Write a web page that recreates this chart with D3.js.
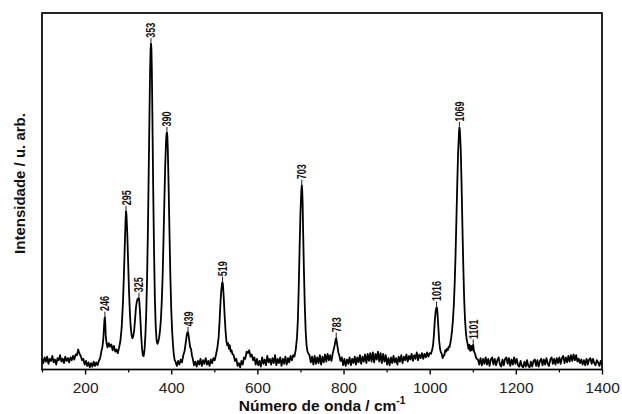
<!DOCTYPE html>
<html><head><meta charset="utf-8">
<script src="https://cdn.jsdelivr.net/npm/d3@7"></script>
<style>body{margin:0;background:#fff}svg{display:block}</style>
</head><body>
<svg id="c" width="622" height="414"></svg>
<script>
// Raman spectrum: wavenumber (cm-1) and intensity (arb. units)
const spectrum = [
[100,30],[103,18],[106,34],[109,22],[112,36],[115,16],[118,30],[121,24],[124,38],[127,20],[130,28],[133,14],[136,32],[139,26],[142,40],[145,22],[148,30],[151,18],[154,36],[157,24],[160,32],[163,20],[166,34],[169,26],[172,38],[175,28],[178,42],[181,40],[184,56],[187,44],[190,38],[193,26],[196,30],[199,14],[202,24],[205,10],[208,20],[211,6],[214,18],[217,8],[220,22],[223,10],[226,20],[229,12],[232,24],[235,32],[238,52],[240,62],
[242,80],[244,120],[245,140],[246,147],[247,128],[248,95],[250,72],[252,62],[255,74],[258,64],[261,70],[264,54],[267,66],[270,50],[273,56],[276,46],[279,62],[282,80],[285,118],[288,190],[290,260],[292,340],[294,420],[295,444],[296,436],[298,380],[300,300],[302,220],[304,160],[306,118],[308,96],[310,88],[312,94],[314,110],[316,140],[318,172],[320,190],[322,198],[324,200],[325,200],[326,190],[328,150],[330,100],[332,62],[334,40],[336,38],[338,55],[340,95],[342,160],[344,260],[346,400],[348,580],[350,760],[351,840],[352,895],[353,914],[354,900],[355,840],[356,740],[358,520],[360,340],[362,200],[364,120],[366,82],[368,72],[370,78],[372,90],[374,110],[376,140],[378,190],[380,260],[382,360],[384,470],[386,570],[388,640],[389,660],[390,665],[391,655],[392,620],[394,510],[396,380],[398,260],[400,170],[402,110],[404,70],[406,42],[408,26],[410,22],[413,10],[416,24],[419,14],[422,28],[425,20],[428,40],[431,52],[434,78],[436,96],[438,105],[439,104],[440,98],[442,80],[444,62],[446,58],[448,40],[450,30],[453,12],[456,22],[459,8],[462,24],[465,14],[468,30],[471,10],[474,26],[477,16],[480,32],[483,14],[486,24],[489,10],[492,28],[495,18],[498,32],[501,26],[504,42],[507,60],[510,90],[512,130],[514,180],[516,220],[518,242],[519,245],[520,238],[522,200],[524,150],[526,110],[528,80],[530,68],[532,74],[534,58],[536,68],[538,50],[540,54],[542,44],[545,40],[548,24],[551,30],[554,10],[557,18],[560,6],[563,24],[566,14],[569,34],[572,30],[575,50],[578,46],[581,54],[584,36],[587,42],[590,26],[593,34],[596,14],[599,30],[602,12],[605,24],[608,8],[611,34],[614,16],[617,28],[620,12],[623,38],[626,20],[629,30],[632,14],[635,32],[638,18],[641,40],[644,12],[647,30],[650,18],[653,34],[656,10],[659,30],[662,16],[665,36],[668,14],[671,32],[674,20],[677,38],[680,26],[683,40],[686,36],[689,55],[692,90],[694,140],[696,230],[698,340],[700,440],[702,500],[703,517],[704,505],[705,470],[706,400],[708,280],[710,180],[712,110],[714,70],[716,52],[718,46],[721,40],[724,20],[727,36],[730,14],[733,38],[736,16],[739,34],[742,18],[745,40],[748,14],[751,36],[754,20],[757,42],[760,22],[763,44],[766,26],[769,40],[772,24],[775,46],[778,60],[780,72],[782,86],[783,88],[784,80],[786,64],[788,48],[790,40],[793,24],[796,34],[799,12],[802,30],[805,10],[808,28],[811,16],[814,34],[817,12],[820,30],[823,18],[826,36],[829,14],[832,34],[835,20],[838,40],[841,16],[844,36],[847,22],[850,42],[853,18],[856,44],[859,24],[862,46],[865,22],[868,48],[871,20],[874,44],[877,28],[880,50],[883,22],[886,46],[889,18],[892,44],[895,22],[898,40],[901,14],[904,32],[907,12],[910,34],[913,18],[916,38],[919,20],[922,32],[925,14],[928,36],[931,22],[934,40],[937,18],[940,36],[943,26],[946,42],[949,22],[952,38],[955,28],[958,44],[961,24],[964,40],[967,30],[970,48],[973,26],[976,42],[979,32],[982,46],[985,30],[988,44],[991,34],[994,48],[997,36],[1000,46],[1003,44],[1006,56],[1008,70],[1010,100],[1012,140],[1014,165],[1016,175],[1017,172],[1018,160],[1020,120],[1022,80],[1024,58],[1026,48],[1028,44],[1030,32],[1032,38],[1034,40],[1036,54],[1038,50],[1040,58],[1042,54],[1044,64],[1046,62],[1048,74],[1050,90],[1052,110],[1054,140],[1056,180],[1058,240],[1060,320],[1062,420],[1064,520],[1066,610],[1068,665],[1069,679],[1070,672],[1072,620],[1074,520],[1076,400],[1078,290],[1080,200],[1082,140],[1084,105],[1086,84],[1088,72],[1090,58],[1092,70],[1094,52],[1096,66],[1098,54],[1100,68],[1101,69],[1103,50],[1105,46],[1107,36],[1109,30],[1112,28],[1115,14],[1118,32],[1121,12],[1124,30],[1127,16],[1130,34],[1133,14],[1136,30],[1139,10],[1142,28],[1145,34],[1148,14],[1151,30],[1154,12],[1157,26],[1160,34],[1163,14],[1166,8],[1169,28],[1172,12],[1175,30],[1178,34],[1181,16],[1184,32],[1187,10],[1190,28],[1193,14],[1196,34],[1199,16],[1202,30],[1205,12],[1208,8],[1211,24],[1214,10],[1217,6],[1220,22],[1223,8],[1226,26],[1229,10],[1232,6],[1235,22],[1238,8],[1241,24],[1244,28],[1247,10],[1250,26],[1253,8],[1256,24],[1259,30],[1262,12],[1265,28],[1268,14],[1271,32],[1274,16],[1277,10],[1280,28],[1283,34],[1286,16],[1289,30],[1292,14],[1295,32],[1298,18],[1301,34],[1304,16],[1307,32],[1310,38],[1313,18],[1316,34],[1319,20],[1322,38],[1325,22],[1328,40],[1331,24],[1334,42],[1337,26],[1340,40],[1343,22],[1346,30],[1349,18],[1352,28],[1355,14],[1358,26],[1361,12],[1364,30],[1367,14],[1370,28],[1373,32],[1376,16],[1379,30],[1382,18],[1385,12],[1388,26],[1391,20],[1394,10],[1397,24],[1400,14]
];
const peakLabels = [246,295,325,353,390,439,519,703,783,1016,1069,1101];
const xTickLabels = [200,400,600,800,1000,1200,1400];
const xMinorTicks = [100,300,500,700,900,1100,1300];
const xLabel = "Número de onda / cm";
const yLabel = "Intensidade / u. arb.";

const svg = d3.select("#c");
const m = {l:42, r:20, t:13, b:44.5};
const W = 622, H = 414;
const FONT = "Liberation Sans, Arial, sans-serif";
const x = d3.scaleLinear().domain([100,1400]).range([m.l, W-m.r]);
const y = d3.scaleLinear().domain([0,1000]).range([H-m.b, m.t]);

// spectrum line
svg.append("path").datum(spectrum)
  .attr("fill","none").attr("stroke","#000").attr("stroke-width",1.8)
  .attr("stroke-linejoin","round")
  .attr("d", d3.line().x(d=>x(d[0])).y(d=>y(d[1])));

// frame
svg.append("rect").attr("x",m.l).attr("y",m.t)
  .attr("width",W-m.l-m.r).attr("height",H-m.t-m.b)
  .attr("fill","none").attr("stroke","#000").attr("stroke-width",1.7);

// x axis
const gx = svg.append("g").attr("transform",`translate(0,${H-m.b})`);
gx.call(d3.axisBottom(x).tickValues(xTickLabels).tickSize(5).tickSizeOuter(0).tickPadding(6).tickFormat(d3.format("d")));
gx.select(".domain").remove();
gx.selectAll(".tick line").attr("stroke","#000").attr("stroke-width",1.4);
gx.selectAll(".tick text").attr("font-family",FONT).attr("font-size",15.5).attr("fill","#222")
  .attr("dy",null).attr("y",23);
const gm = svg.append("g").attr("transform",`translate(0,${H-m.b})`);
gm.call(d3.axisBottom(x).tickValues(xMinorTicks).tickSize(3).tickSizeOuter(0).tickFormat(""));
gm.select(".domain").remove();
gm.selectAll(".tick line").attr("stroke","#000").attr("stroke-width",1.2);

// axis titles
const xt = svg.append("text").attr("x",(m.l+W-m.r)/2).attr("y",410.5)
  .attr("text-anchor","middle").attr("font-family",FONT)
  .attr("font-weight","bold").attr("font-size",15.5).attr("fill","#111");
xt.append("tspan").text(xLabel);
xt.append("tspan").attr("font-size",10).attr("dy",-7).text("-1");

svg.append("text").attr("transform",`translate(24.5,183.5) rotate(-90)`)
  .attr("text-anchor","middle").attr("font-family",FONT)
  .attr("font-weight","bold").attr("font-size",15).attr("fill","#111").text(yLabel);

// peak labels
const lookup = new Map(spectrum.map(d=>[d[0],d[1]]));
const pl = svg.append("g");
peakLabels.forEach(p=>{
  const py = y(lookup.get(p));
  const px = x(p);
  pl.append("line").attr("x1",px).attr("x2",px).attr("y1",py-1).attr("y2",py-5.5)
    .attr("stroke","#000").attr("stroke-width",0.9);
  pl.append("text").attr("transform",`translate(${px+4.5},${py-6}) rotate(-90) scale(0.72,1)`)
    .attr("text-anchor","start").attr("font-family",FONT).attr("font-weight","bold")
    .attr("font-size",12.5).attr("fill","#111").text(p);
});
</script>
</body></html>
